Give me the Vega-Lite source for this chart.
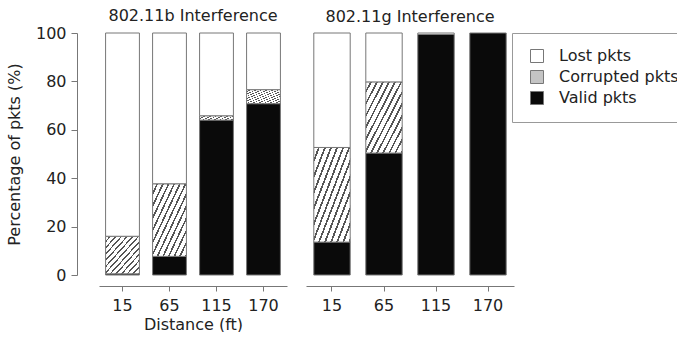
{
  "$schema": "https://vega.github.io/schema/vega-lite/v6.json",
  "background": "white",
  "padding": {"left": 6, "top": 8, "right": 0, "bottom": 0},
  "data": {"values": [
    {"panel": "802.11b", "distance": "15", "type": "Valid pkts", "seg": 1, "pct": 0.5},
    {"panel": "802.11b", "distance": "15", "type": "Corrupted pkts", "seg": 2, "pct": 15.5},
    {"panel": "802.11b", "distance": "15", "type": "Lost pkts", "seg": 3, "pct": 84},
    {"panel": "802.11b", "distance": "65", "type": "Valid pkts", "seg": 1, "pct": 7.7},
    {"panel": "802.11b", "distance": "65", "type": "Corrupted pkts", "seg": 2, "pct": 30},
    {"panel": "802.11b", "distance": "65", "type": "Lost pkts", "seg": 3, "pct": 62.3},
    {"panel": "802.11b", "distance": "115", "type": "Valid pkts", "seg": 1, "pct": 64},
    {"panel": "802.11b", "distance": "115", "type": "Corrupted pkts", "seg": 2, "pct": 1.8},
    {"panel": "802.11b", "distance": "115", "type": "Lost pkts", "seg": 3, "pct": 34.2},
    {"panel": "802.11b", "distance": "170", "type": "Valid pkts", "seg": 1, "pct": 70.8},
    {"panel": "802.11b", "distance": "170", "type": "Corrupted pkts", "seg": 2, "pct": 5.8},
    {"panel": "802.11b", "distance": "170", "type": "Lost pkts", "seg": 3, "pct": 23.4},
    {"panel": "802.11g", "distance": "15", "type": "Valid pkts", "seg": 1, "pct": 13.6},
    {"panel": "802.11g", "distance": "15", "type": "Corrupted pkts", "seg": 2, "pct": 39.1},
    {"panel": "802.11g", "distance": "15", "type": "Lost pkts", "seg": 3, "pct": 47.3},
    {"panel": "802.11g", "distance": "65", "type": "Valid pkts", "seg": 1, "pct": 50.4},
    {"panel": "802.11g", "distance": "65", "type": "Corrupted pkts", "seg": 2, "pct": 29.4},
    {"panel": "802.11g", "distance": "65", "type": "Lost pkts", "seg": 3, "pct": 20.2},
    {"panel": "802.11g", "distance": "115", "type": "Valid pkts", "seg": 1, "pct": 99.4},
    {"panel": "802.11g", "distance": "115", "type": "Lost pkts", "seg": 3, "pct": 0.6},
    {"panel": "802.11g", "distance": "170", "type": "Valid pkts", "seg": 1, "pct": 100}
  ]},
  "config": {
    "font": "DejaVu Sans",
    "view": {"stroke": null},
    "axis": {
      "labelFont": "DejaVu Sans", "labelFontSize": 16, "labelColor": "#222",
      "titleFont": "DejaVu Sans", "titleFontSize": 16, "titleFontWeight": "normal", "titleColor": "#222",
      "domainColor": "#777", "tickColor": "#777", "grid": false
    },
    "legend": {
      "orient": "right", "offset": -2, "padding": 15, "strokeColor": "#999",
      "symbolType": "square", "symbolSize": 169, "symbolStrokeColor": "#777", "symbolStrokeWidth": 1,
      "labelFont": "DejaVu Sans", "labelFontSize": 16, "labelColor": "#222", "labelOffset": 14,
      "rowPadding": 3, "symbolOffset": 2
    },
    "title": {"font": "DejaVu Sans", "fontSize": 16, "fontWeight": "normal", "color": "#222", "offset": 1}
  },
  "spacing": 19,
  "hconcat": [
    {
      "title": "802.11b Interference",
      "transform": [{"filter": "datum.panel === '802.11b'"}],
      "width": 188, "height": 242,
      "mark": {"type": "bar", "stroke": "#777", "strokeWidth": 1},
      "encoding": {
        "x": {"field": "distance", "type": "ordinal", "sort": ["15", "65", "115", "170"],
              "scale": {"paddingInner": 0.28, "paddingOuter": 0.14},
              "axis": {"title": "Distance (ft)", "labelAngle": 0, "offset": 11, "tickSize": 5, "labelPadding": 6, "titlePadding": 3}},
        "y": {"field": "pct", "type": "quantitative", "stack": "zero",
              "scale": {"domain": [0, 100], "nice": false},
              "axis": {"title": "Percentage of pkts (%)", "values": [0, 20, 40, 60, 80, 100], "offset": 22, "tickSize": 6, "labelPadding": 5, "titlePadding": 13}},
        "color": {
          "condition": {"test": "datum.type === 'Corrupted pkts'",
            "value": {"gradient": "linear", "x1": 0, "y1": 0, "x2": 1, "y2": 1, "stops": [
                {"offset": 0, "color": "#fff"}, {"offset": 0.0583, "color": "#fff"}, {"offset": 0.0583, "color": "#555"}, {"offset": 0.0833, "color": "#555"},
                {"offset": 0.0833, "color": "#fff"}, {"offset": 0.1417, "color": "#fff"}, {"offset": 0.1417, "color": "#555"}, {"offset": 0.1667, "color": "#555"},
                {"offset": 0.1667, "color": "#fff"}, {"offset": 0.225, "color": "#fff"}, {"offset": 0.225, "color": "#555"}, {"offset": 0.25, "color": "#555"},
                {"offset": 0.25, "color": "#fff"}, {"offset": 0.3083, "color": "#fff"}, {"offset": 0.3083, "color": "#555"}, {"offset": 0.3333, "color": "#555"},
                {"offset": 0.3333, "color": "#fff"}, {"offset": 0.3917, "color": "#fff"}, {"offset": 0.3917, "color": "#555"}, {"offset": 0.4167, "color": "#555"},
                {"offset": 0.4167, "color": "#fff"}, {"offset": 0.475, "color": "#fff"}, {"offset": 0.475, "color": "#555"}, {"offset": 0.5, "color": "#555"},
                {"offset": 0.5, "color": "#fff"}, {"offset": 0.5583, "color": "#fff"}, {"offset": 0.5583, "color": "#555"}, {"offset": 0.5833, "color": "#555"},
                {"offset": 0.5833, "color": "#fff"}, {"offset": 0.6417, "color": "#fff"}, {"offset": 0.6417, "color": "#555"}, {"offset": 0.6667, "color": "#555"},
                {"offset": 0.6667, "color": "#fff"}, {"offset": 0.725, "color": "#fff"}, {"offset": 0.725, "color": "#555"}, {"offset": 0.75, "color": "#555"},
                {"offset": 0.75, "color": "#fff"}, {"offset": 0.8083, "color": "#fff"}, {"offset": 0.8083, "color": "#555"}, {"offset": 0.8333, "color": "#555"},
                {"offset": 0.8333, "color": "#fff"}, {"offset": 0.8917, "color": "#fff"}, {"offset": 0.8917, "color": "#555"}, {"offset": 0.9167, "color": "#555"},
                {"offset": 0.9167, "color": "#fff"}, {"offset": 0.975, "color": "#fff"}, {"offset": 0.975, "color": "#555"}, {"offset": 1, "color": "#555"}
              ]}},
          "field": "type", "type": "nominal",
          "scale": {"domain": ["Lost pkts", "Corrupted pkts", "Valid pkts"], "range": ["#ffffff", "#c4c4c4", "#0a0a0a"]},
          "legend": {"title": null,
            "encode": {"symbols": {"update": {
              "stroke": {"value": "#777"},
              "strokeWidth": {"value": 1}
            }}}}
        },
        "order": {"field": "seg", "type": "quantitative"}
      }
    },
    {
      "title": {"text": "802.11g Interference", "offset": 8},
      "transform": [{"filter": "datum.panel === '802.11g'"}],
      "width": 208, "height": 242,
      "mark": {"type": "bar", "stroke": "#777", "strokeWidth": 1},
      "encoding": {
        "x": {"field": "distance", "type": "ordinal", "sort": ["15", "65", "115", "170"],
              "scale": {"paddingInner": 0.3, "paddingOuter": 0.15},
              "axis": {"title": null, "labelAngle": 0, "offset": 11, "tickSize": 5, "labelPadding": 6}},
        "y": {"field": "pct", "type": "quantitative", "stack": "zero",
              "scale": {"domain": [0, 100], "nice": false}, "axis": null},
        "color": {
          "condition": {"test": "datum.type === 'Corrupted pkts'",
            "value": {"gradient": "linear", "x1": 0, "y1": 0, "x2": 1, "y2": 1, "stops": [
                {"offset": 0, "color": "#fff"}, {"offset": 0.0583, "color": "#fff"}, {"offset": 0.0583, "color": "#555"}, {"offset": 0.0833, "color": "#555"},
                {"offset": 0.0833, "color": "#fff"}, {"offset": 0.1417, "color": "#fff"}, {"offset": 0.1417, "color": "#555"}, {"offset": 0.1667, "color": "#555"},
                {"offset": 0.1667, "color": "#fff"}, {"offset": 0.225, "color": "#fff"}, {"offset": 0.225, "color": "#555"}, {"offset": 0.25, "color": "#555"},
                {"offset": 0.25, "color": "#fff"}, {"offset": 0.3083, "color": "#fff"}, {"offset": 0.3083, "color": "#555"}, {"offset": 0.3333, "color": "#555"},
                {"offset": 0.3333, "color": "#fff"}, {"offset": 0.3917, "color": "#fff"}, {"offset": 0.3917, "color": "#555"}, {"offset": 0.4167, "color": "#555"},
                {"offset": 0.4167, "color": "#fff"}, {"offset": 0.475, "color": "#fff"}, {"offset": 0.475, "color": "#555"}, {"offset": 0.5, "color": "#555"},
                {"offset": 0.5, "color": "#fff"}, {"offset": 0.5583, "color": "#fff"}, {"offset": 0.5583, "color": "#555"}, {"offset": 0.5833, "color": "#555"},
                {"offset": 0.5833, "color": "#fff"}, {"offset": 0.6417, "color": "#fff"}, {"offset": 0.6417, "color": "#555"}, {"offset": 0.6667, "color": "#555"},
                {"offset": 0.6667, "color": "#fff"}, {"offset": 0.725, "color": "#fff"}, {"offset": 0.725, "color": "#555"}, {"offset": 0.75, "color": "#555"},
                {"offset": 0.75, "color": "#fff"}, {"offset": 0.8083, "color": "#fff"}, {"offset": 0.8083, "color": "#555"}, {"offset": 0.8333, "color": "#555"},
                {"offset": 0.8333, "color": "#fff"}, {"offset": 0.8917, "color": "#fff"}, {"offset": 0.8917, "color": "#555"}, {"offset": 0.9167, "color": "#555"},
                {"offset": 0.9167, "color": "#fff"}, {"offset": 0.975, "color": "#fff"}, {"offset": 0.975, "color": "#555"}, {"offset": 1, "color": "#555"}
              ]}},
          "field": "type", "type": "nominal",
          "scale": {"domain": ["Lost pkts", "Corrupted pkts", "Valid pkts"], "range": ["#ffffff", "#c4c4c4", "#0a0a0a"]},
          "legend": {"title": null}
        },
        "order": {"field": "seg", "type": "quantitative"}
      }
    }
  ]
}
